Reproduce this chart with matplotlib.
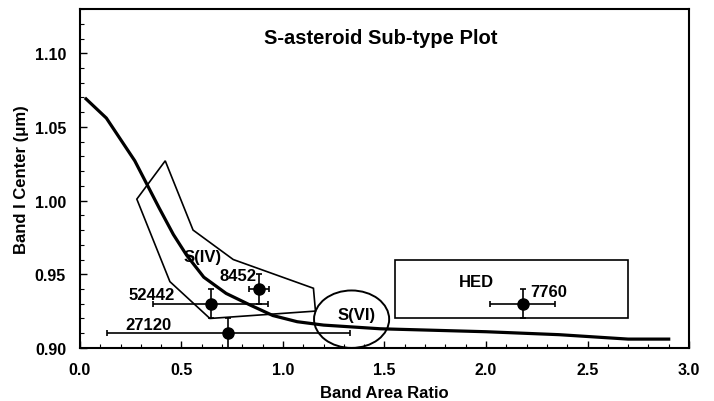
import numpy as np
import matplotlib.pyplot as plt
from matplotlib.patches import Polygon, Rectangle, Ellipse
from matplotlib.ticker import MultipleLocator

plt.rcParams['font.family'] = ['Liberation Sans', 'DejaVu Sans']
plt.rcParams['font.weight'] = 'bold'

# curva de calibración (Band I center vs BAR)
curve_x = [0.03, 0.13, 0.27, 0.33, 0.39, 0.46, 0.525, 0.61, 0.72, 0.84, 0.95, 1.07, 1.20,
           1.48, 2.00, 2.36, 2.70, 2.90]
curve_y = [1.069, 1.056, 1.027, 1.011, 0.995, 0.977, 0.963, 0.948, 0.937, 0.929, 0.922, 0.9178, 0.9155,
           0.913, 0.911, 0.909, 0.906, 0.906]

# región S(IV)
siv_x = [0.28, 0.42, 0.557, 0.755, 1.15, 1.16, 0.64, 0.443]
siv_y = [1.001, 1.027, 0.980, 0.960, 0.9405, 0.925, 0.920, 0.945]

# asteroides
names = ['52442', '8452', '27120', '7760']
bar = [0.643, 0.882, 0.731, 2.18]
band1 = [0.93, 0.94, 0.91, 0.93]
bar_err = [0.283, 0.051, 0.60, 0.16]
band1_err = [0.01, 0.01, 0.01, 0.01]
label_x = [0.355, 0.78, 0.335, 2.31]
label_y = [0.936, 0.949, 0.9156, 0.938]

# cajas HED y S(VI)
hed_box = (1.55, 0.92, 2.70, 0.96)
svi_center = (1.338, 0.9195)
svi_size = (0.37, 0.039)

fig = plt.figure(figsize=(7.14, 4.02), dpi=100)
ax = fig.add_axes([0.112, 0.132, 0.853, 0.843])

ax.plot(curve_x, curve_y, color='black', lw=2.3, zorder=3)
ax.add_patch(Polygon(np.column_stack([siv_x, siv_y]), closed=True, fill=False, ec='black', lw=1.2))
ax.add_patch(Rectangle((hed_box[0], hed_box[1]), hed_box[2] - hed_box[0], hed_box[3] - hed_box[1],
                       fill=False, ec='black', lw=1.2))
ax.add_patch(Ellipse(svi_center, svi_size[0], svi_size[1], fill=False, ec='black', lw=1.4))

ax.errorbar(bar, band1, xerr=bar_err, yerr=band1_err, fmt='o', color='black', ms=8,
            ecolor='black', elinewidth=1.2, capsize=2, capthick=1.2, zorder=5)

for n, lx, ly in zip(names, label_x, label_y):
    ax.text(lx, ly, n, ha='center', va='center', fontsize=12, fontweight='bold')

ax.text(0.606, 0.962, 'S(IV)', ha='center', va='center', fontsize=12, fontweight='bold')
ax.text(1.364, 0.923, 'S(VI)', ha='center', va='center', fontsize=12, fontweight='bold')
ax.text(1.955, 0.945, 'HED', ha='center', va='center', fontsize=12, fontweight='bold')
ax.text(1.483, 1.111, 'S-asteroid Sub-type Plot', ha='center', va='center', fontsize=14.5, fontweight='bold')

ax.set_xlim(0, 3.0)
ax.set_ylim(0.90, 1.13)
ax.xaxis.set_minor_locator(MultipleLocator(0.1))
ax.yaxis.set_minor_locator(MultipleLocator(0.01))
ax.set_xticks([0, 0.5, 1.0, 1.5, 2.0, 2.5, 3.0])
ax.set_xticklabels(['0.0', '0.5', '1.0', '1.5', '2.0', '2.5', '3.0'])
ax.set_yticks([0.90, 0.95, 1.00, 1.05, 1.10])
ax.set_yticklabels(['0.90', '0.95', '1.00', '1.05', '1.10'])
ax.tick_params(which='both', direction='in', top=False, right=False, labelsize=11.5)
ax.tick_params(which='major', length=5, width=1, pad=10)
ax.tick_params(which='minor', length=3, width=0.8)
for s in ax.spines.values():
    s.set_linewidth(1.5)

ax.set_xlabel('Band Area Ratio', fontsize=12, fontweight='bold', labelpad=6)
ax.set_ylabel('Band I Center (\u03bcm)', fontsize=12, fontweight='bold', labelpad=4)

fig.savefig('out.png', dpi=100)
